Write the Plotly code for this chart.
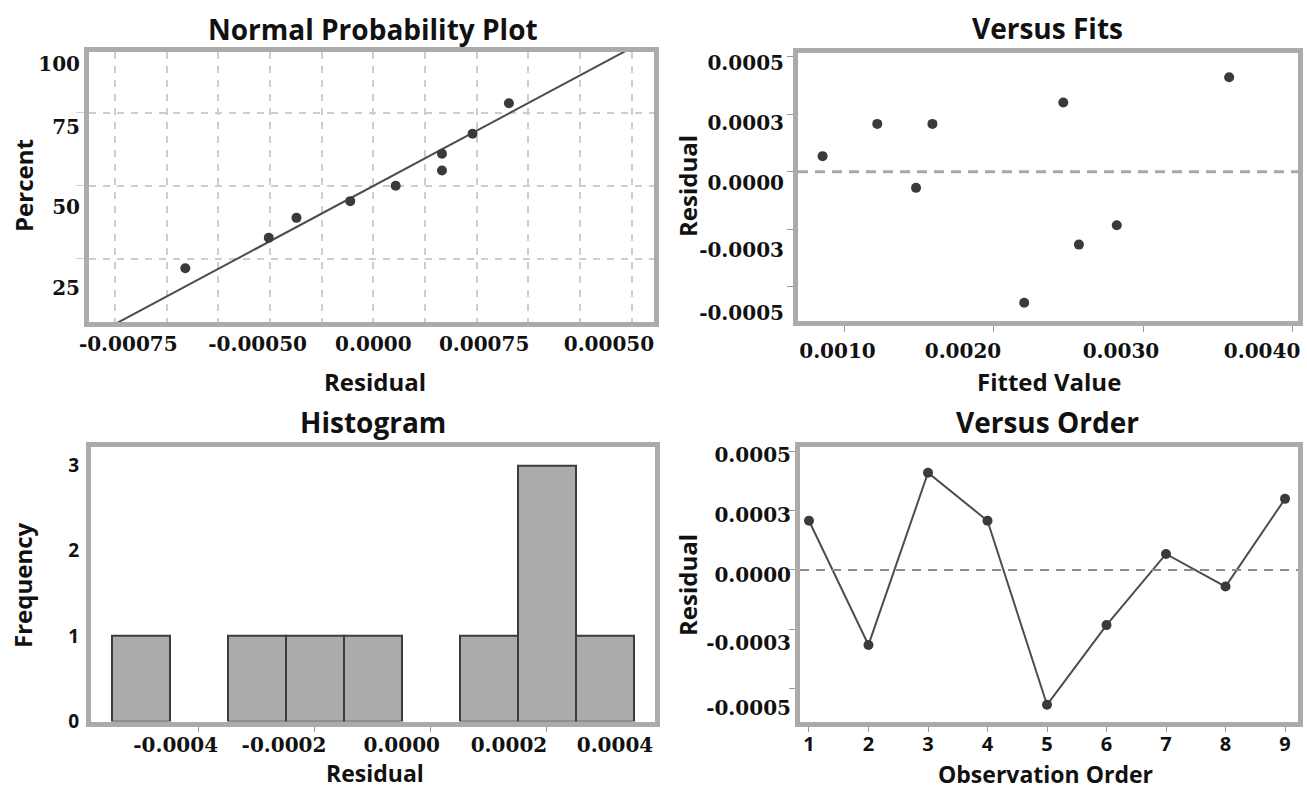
import plotly.graph_objects as go
import numpy as np
from statistics import NormalDist

W, H = 1307, 791

# ---------------- data ----------------
observation = [1, 2, 3, 4, 5, 6, 7, 8, 9]
residual = [0.000166, -0.000253, 0.000328, 0.000166, -0.000455,
            -0.000186, 0.000054, -0.000056, 0.000240]
fitted_value = [0.001217, 0.002570, 0.003578, 0.001587, 0.002203,
                0.002824, 0.000850, 0.001477, 0.002465]
normal_percent = [7.4, 18.1, 28.7, 39.4, 50.0, 60.6, 71.3, 81.9, 92.6]

# tick labels as printed on the chart
npp_x_ticktext = ["-0.00075", "-0.00050", "0.0000", "0.00075", "0.00050"]
npp_y_ticktext = ["100", "75", "50", "25"]
fits_x_ticktext = ["0.0010", "0.0020", "0.0030", "0.0040"]
resid_y_ticktext = ["0.0005", "0.0003", "0.0000", "-0.0003", "-0.0005"]
hist_x_ticktext = ["-0.0004", "-0.0002", "0.0000", "0.0002", "0.0004"]
hist_y_ticktext = ["0", "1", "2", "3"]
order_x_ticktext = [str(i) for i in observation]

# ---------------- layout positions (where the labels sit) ----------------
npp_x_tickpos = [-0.000593, -0.000280, 0.0, 0.000268, 0.000570]
npp_y_tickpct = [98.4, 85.0, 35.7, 3.6]
npp_grid_pct = [10, 50, 90]
fits_x_tickpos = [0.00095, 0.001792, 0.002852, 0.003799]
fits_y_tickpos = [0.000378, 0.000169, -0.000039, -0.000272, -0.000491]
hist_x_tickpos = [-0.00044, -0.000253, -0.00005, 0.000135, 0.000318]
order_y_tickpos = [0.000388, 0.000185, -0.000017, -0.000246, -0.000465]

nd = NormalDist()
npp_z = [nd.inv_cdf(p / 100) for p in normal_percent]
npp_x = sorted(residual)
mu = float(np.mean(residual))
sd = float(np.std(residual, ddof=1))
line_z = [-3.0, 3.0]
line_x = [mu + sd * z for z in line_z]

MARK = "#3a3a3a"
LINE = "#4d4d4d"
FRAME = "#ababab"
GRID = "#cdcdcd"


def px_x(x):
    return x / W


def px_y(y):
    return 1 - y / H


serif_tick = dict(family="DejaVu Serif", size=20, color="#111111", weight="bold")
sans_tick = dict(family="Open Sans", size=19, color="#111111", weight="bold")


def axis(**kw):
    base = dict(showline=True, mirror=True, linecolor=FRAME, linewidth=5,
                zeroline=False, showgrid=False, ticks="", tickmode="array",
                tickfont=serif_tick, fixedrange=True, automargin=False)
    base.update(kw)
    return base


fig = go.Figure()

# Normal probability plot
fig.add_trace(go.Scatter(x=line_x, y=line_z, mode="lines",
                         line=dict(color=LINE, width=2), xaxis="x", yaxis="y",
                         hoverinfo="skip"))
fig.add_trace(go.Scatter(x=npp_x, y=npp_z, mode="markers",
                         marker=dict(color=MARK, size=10), xaxis="x", yaxis="y"))

# Versus fits
fig.add_trace(go.Scatter(x=fitted_value, y=residual, mode="markers",
                         marker=dict(color=MARK, size=10), xaxis="x2", yaxis="y2"))

# Histogram
fig.add_trace(go.Histogram(x=residual,
                           xbins=dict(start=-0.00055, end=0.00035, size=0.0001),
                           marker=dict(color="#ababab", line=dict(color="#3c3c3c", width=2)),
                           xaxis="x3", yaxis="y3"))

# Versus order
fig.add_trace(go.Scatter(x=observation, y=residual, mode="lines+markers",
                         line=dict(color=LINE, width=2),
                         marker=dict(color=MARK, size=10), xaxis="x4", yaxis="y4"))

minor_grid = dict(showgrid=True, griddash="7px,7px", gridcolor=GRID, gridwidth=1.5)

fig.update_layout(
    width=W, height=H, margin=dict(l=0, r=0, t=0, b=0, autoexpand=False),
    paper_bgcolor="white", plot_bgcolor="white", showlegend=False, bargap=0,
    xaxis=axis(domain=[px_x(89), px_x(654)], range=[-0.000688, 0.000679], anchor="y",
               tickvals=npp_x_tickpos, ticktext=npp_x_ticktext, ticklabelstandoff=0,
               minor=dict(tickvals=[k * 0.000125 for k in range(-5, 6)], **minor_grid)),
    yaxis=axis(domain=[px_y(322), px_y(52)], range=[-2.389, 2.347], anchor="x",
               tickvals=[nd.inv_cdf(p / 100) for p in npp_y_tickpct],
               ticktext=npp_y_ticktext, ticklabelstandoff=0,
               minor=dict(tickvals=[nd.inv_cdf(p / 100) for p in npp_grid_pct],
                          ticks="outside", ticklen=8, tickcolor=GRID, **minor_grid)),
    xaxis2=axis(domain=[px_x(798), px_x(1298)], range=[0.000685, 0.00404], anchor="y2",
                tickvals=fits_x_tickpos, ticktext=fits_x_ticktext, ticklabelstandoff=8,
                minor=dict(tickvals=[0.001, 0.002, 0.003, 0.004], ticks="outside",
                           ticklen=6, tickcolor="#999999")),
    yaxis2=axis(domain=[px_y(320.7), px_y(52.7)], range=[-0.000517, 0.000413], anchor="x2",
                tickvals=fits_y_tickpos, ticktext=resid_y_ticktext, ticklabelstandoff=5,
                minor=dict(tickvals=[-0.0004, -0.0002, 0.0, 0.0002, 0.0004], ticks="outside",
                           ticklen=6, tickcolor="#999999")),
    xaxis3=axis(domain=[px_x(91), px_x(655)], range=[-0.000586, 0.000387], anchor="y3",
                tickvals=hist_x_tickpos, ticktext=hist_x_ticktext, ticklabelstandoff=1,
                minor=dict(tickvals=[-0.0004, -0.0002, 0.0, 0.0002], ticks="outside",
                           ticklen=5, tickcolor="#999999")),
    yaxis3=axis(domain=[px_y(721.5), px_y(446.7)], range=[0, 3.22], anchor="x3",
                tickvals=[0, 1, 2, 3], ticktext=hist_y_ticktext, ticklabelstandoff=3,
                tickfont=sans_tick),
    xaxis4=axis(domain=[px_x(800), px_x(1298)], range=[0.849, 9.218], anchor="y4",
                tickvals=observation, ticktext=order_x_ticktext, ticklabelstandoff=0,
                tickfont=dict(family="Open Sans", size=20, color="#111111", weight="bold"),
                minor=dict(tickvals=observation, ticks="outside", ticklen=5,
                           tickcolor="#999999")),
    yaxis4=axis(domain=[px_y(721.7), px_y(446.7)], range=[-0.000512, 0.000416], anchor="x4",
                tickvals=order_y_tickpos, ticktext=resid_y_ticktext, ticklabelstandoff=0,
                minor=dict(tickvals=[-0.0004, -0.0002, 0.0, 0.0002, 0.0004], ticks="outside",
                           ticklen=6, tickcolor="#999999")),
)

# zero reference lines
fig.add_shape(type="line", xref="x2 domain", yref="y2", x0=0, x1=1, y0=0, y1=0,
              line=dict(color="#a8a8a8", width=3, dash="10px,7px"))
fig.add_shape(type="line", xref="x4 domain", yref="y4", x0=0, x1=1, y0=0, y1=0,
              line=dict(color="#8c8c8c", width=2, dash="9px,7px"))

title_font = dict(family="Open Sans", size=28, color="#111111", weight="bold")
label_font = dict(family="Open Sans", size=24, color="#111111", weight="bold")
bottom_font = dict(family="Open Sans", size=23, color="#111111", weight="bold")


def text(t, x, y, font, angle=0):
    fig.add_annotation(text=t, x=px_x(x), y=px_y(y), xref="paper", yref="paper",
                       xanchor="center", yanchor="middle", showarrow=False,
                       font=font, textangle=angle)


text("Normal Probability Plot", 373, 29, title_font)
text("Versus Fits", 1047, 28, title_font)
text("Histogram", 373, 422, title_font)
text("Versus Order", 1047, 422, title_font)

text("Residual", 375, 381, label_font)
text("Percent", 23, 186, label_font, -90)
text("Fitted Value", 1049, 381, label_font)
text("Residual", 687, 186, label_font, -90)
text("Residual", 375, 773, bottom_font)
text("Frequency", 22, 585, label_font, -90)
text("Residual", 687, 585, label_font, -90)
text("Observation Order", 1045, 774, bottom_font)

fig.write_html("out.html", config={"displayModeBar": False},
               post_script="document.body.style.margin='0px';"
                           "document.body.style.overflow='hidden';")
